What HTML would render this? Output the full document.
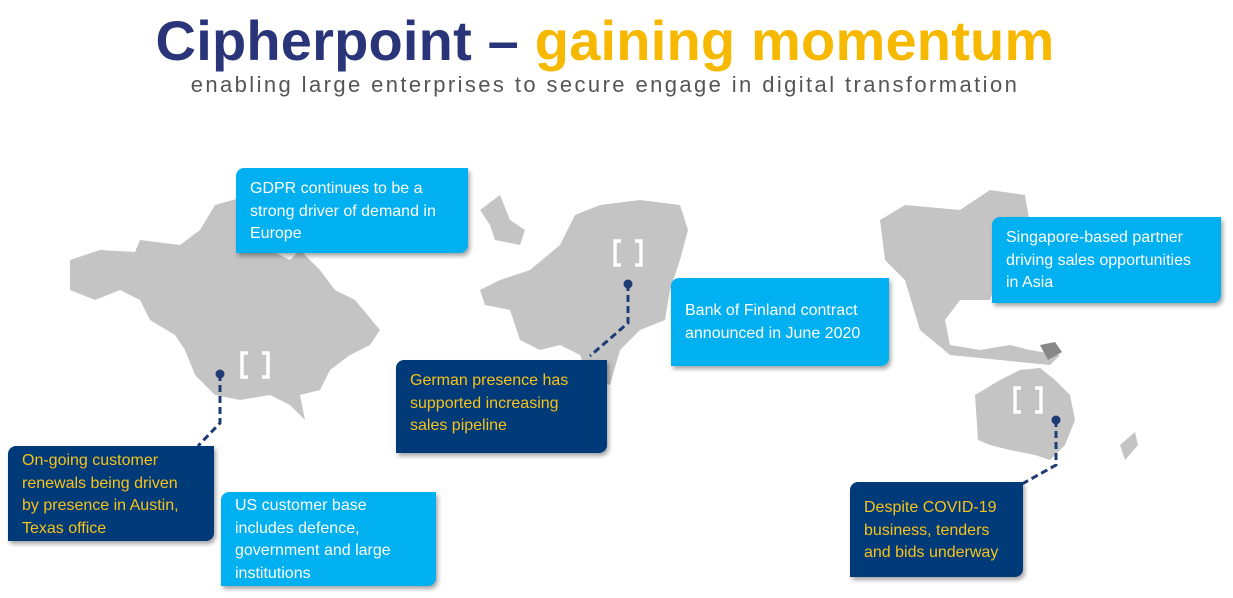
<!DOCTYPE html>
<html><head><meta charset="utf-8"><style>
body{margin:0;width:1233px;height:598px;background:#fff;position:relative;overflow:hidden;font-family:"Liberation Sans",sans-serif}
.t{position:absolute;left:0;width:1210px;text-align:center;top:8px;font-size:56px;font-weight:bold;color:#2a3478;letter-spacing:0.2px;white-space:nowrap}
.t span{color:#f7b800}
.s{position:absolute;left:0;width:1210px;text-align:center;top:72px;font-size:22px;color:#555;letter-spacing:2.4px;white-space:nowrap}
.b{position:absolute;box-sizing:border-box;padding:10px 14px;font-size:16px;line-height:22.5px;border-radius:8px 0 8px 0;box-shadow:2px 3px 4px rgba(0,0,0,.35);white-space:nowrap}
.l{background:#00b0f0;color:#fff}
.d{background:#003a78;color:#f7c21a}
svg{position:absolute;left:0;top:0}
</style></head><body>
<div class="t">Cipherpoint – <span>gaining momentum</span></div>
<div class="s">enabling large enterprises to secure engage in digital transformation</div>
<svg width="1233" height="598">
<g fill="#c4c4c4">
<polygon points="70,260 100,250 135,252 140,240 180,245 200,230 215,205 240,198 255,215 260,245 290,260 300,250 320,270 335,290 355,300 380,330 370,345 350,355 330,370 320,390 300,395 305,420 290,405 270,395 240,400 215,395 195,375 185,350 175,335 150,320 140,300 120,290 95,300 70,290"/>
<polygon points="480,290 500,280 530,270 560,245 575,215 600,205 640,200 680,205 688,230 680,260 670,290 665,320 640,330 620,350 610,385 590,380 580,355 560,345 540,350 520,340 510,310 485,305"/>
<polygon points="480,210 500,195 510,220 525,230 520,245 495,240 490,225"/>
<polygon points="880,220 905,205 960,210 990,190 1025,195 1030,225 1000,270 990,300 960,300 945,320 950,345 980,350 1010,345 1030,350 1060,355 1050,365 1000,360 950,355 920,330 905,280 885,260"/>
<polygon points="975,395 1000,380 1020,370 1040,368 1055,380 1070,395 1075,420 1065,445 1050,460 1035,455 1010,450 990,445 978,440"/>
<polygon points="1120,445 1135,432 1138,445 1125,460"/>
</g>
<polygon points="1040,345 1055,342 1062,352 1048,360" fill="#888"/>
<g fill="none" stroke="#fff" stroke-width="3.5">
<path d="M248,353h-6v24h6M262,353h6v24h-6"/>
<path d="M621,241h-6v24h6M635,241h6v24h-6"/>
<path d="M1021,388h-6v24h6M1035,388h6v24h-6"/>
</g>
<g fill="none" stroke="#1f3b73" stroke-width="3" stroke-dasharray="7,4">
<path d="M220,374V423L198,446"/>
<path d="M628,284V323L590,356"/>
<path d="M1056,420V465L1022,484"/>
</g>
<g fill="#1f3b73"><circle cx="220" cy="374" r="4.5"/><circle cx="628" cy="284" r="4.5"/><circle cx="1056" cy="420" r="4.5"/></g>
</svg>
<div class="b l" style="left:236px;top:168px;width:232px;height:85px">GDPR continues to be a<br>strong driver of demand in<br>Europe</div>
<div class="b l" style="left:671px;top:278px;width:218px;height:88px;padding-top:22px">Bank of Finland contract<br>announced in June 2020</div>
<div class="b l" style="left:992px;top:217px;width:229px;height:86px">Singapore-based partner<br>driving sales opportunities<br>in Asia</div>
<div class="b d" style="left:396px;top:360px;width:211px;height:93px">German presence has<br>supported increasing<br>sales pipeline</div>
<div class="b d" style="left:8px;top:446px;width:206px;height:95px;padding-top:4px">On-going customer<br>renewals being driven<br>by presence in Austin,<br>Texas office</div>
<div class="b l" style="left:221px;top:492px;width:215px;height:94px;padding-top:3px">US customer base<br>includes defence,<br>government and large<br>institutions</div>
<div class="b d" style="left:850px;top:482px;width:173px;height:95px;padding-top:15px">Despite COVID-19<br>business, tenders<br>and bids underway</div>
</body></html>
